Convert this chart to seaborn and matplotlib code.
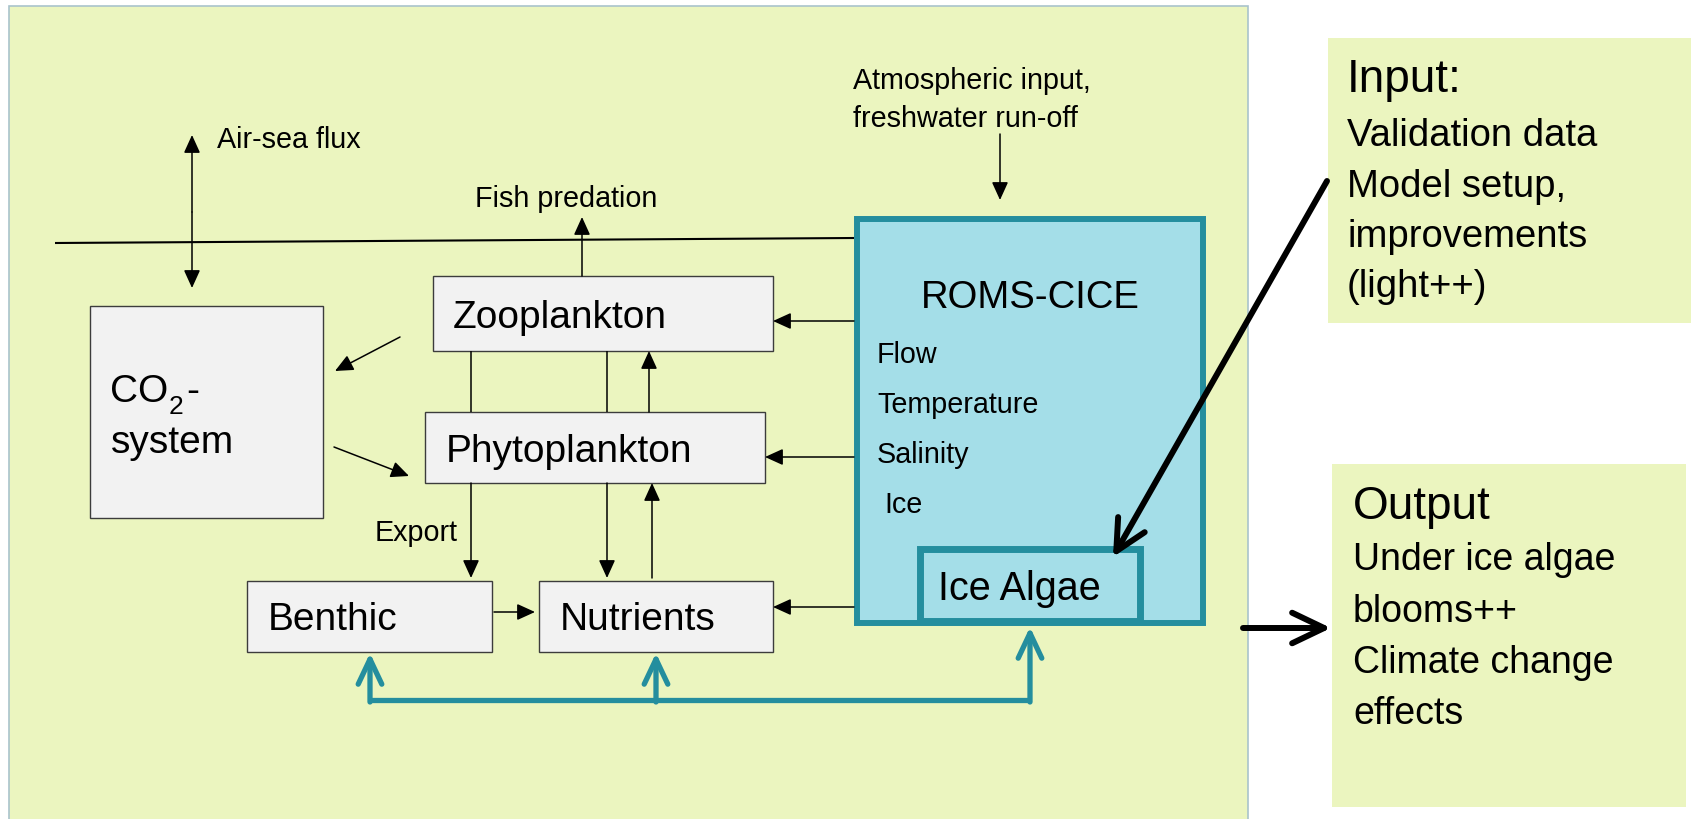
import matplotlib
matplotlib.use("Agg")
import matplotlib.pyplot as plt
import seaborn as sns
from matplotlib.patches import Rectangle, FancyArrowPatch, ArrowStyle

# ---------------- content (texts of the diagram) ----------------
box_labels = ["Zooplankton", "Phytoplankton", "Benthic", "Nutrients"]
co2_label = ["CO", "2", "-", "system"]
model_title = "ROMS-CICE"
model_vars = ["Flow", "Temperature", "Salinity", "Ice"]
ice_label = "Ice Algae"
small_labels = ["Air-sea flux", "Fish predation", "Export",
                "Atmospheric input,", "freshwater run-off"]
input_lines = ["Input:", "Validation data", "Model setup,", "improvements", "(light++)"]
output_lines = ["Output", "Under ice algae", "blooms++", "Climate change", "effects"]

# ---------------- layout (pixel coordinates, y downwards) ----------------
W, H = 1694, 819
PANEL = (9, 6, 1248, 830)
BOXES = {  # x0, y0, x1, y1
    "Zooplankton": (433, 276, 773, 351),
    "Phytoplankton": (425, 412, 765, 483),
    "Benthic": (247, 581, 492, 652),
    "Nutrients": (539, 581, 773, 652),
    "CO2": (90, 306, 323, 518),
}
LABEL_POS = {"Zooplankton": (453, 328), "Phytoplankton": (446, 462),
             "Benthic": (268, 630), "Nutrients": (560, 630)}

C_PANEL = "#EBF5BF"
C_PANEL_EDGE = "#A9C3CC"
C_BOX = "#F2F2F2"
C_BOX_EDGE = "#3C3C3C"
C_ROMS = "#A4DEE8"
C_TEAL = "#248E9E"

sns.set_theme(style="white")
plt.rcParams["font.family"] = ["Liberation Sans", "DejaVu Sans"]
plt.rcParams["text.color"] = "black"

fig = plt.figure(figsize=(W / 100, H / 100), dpi=100)
fig.patch.set_facecolor("white")
ax = fig.add_axes([0, 0, 1, 1])
ax.set_xlim(0, W)
ax.set_ylim(H, 0)
ax.axis("off")


def rect(x0, y0, x1, y1, fc, ec, lw, z=1):
    ax.add_patch(Rectangle((x0, y0), x1 - x0, y1 - y0, facecolor=fc,
                           edgecolor=ec, linewidth=lw, zorder=z,
                           joinstyle="miter"))


def arrow(p0, p1, color="black", lw=1.1, style="-|>", hl=11, hw=5, z=5):
    st = ArrowStyle(style, head_length=hl, head_width=hw)
    a = FancyArrowPatch(p0, p1, arrowstyle=st, mutation_scale=1,
                        color=color, lw=lw, shrinkA=0, shrinkB=0, zorder=z,
                        capstyle="round", joinstyle="round")
    ax.add_patch(a)


def line(xs, ys, color="black", lw=1.1, z=4):
    ax.plot(xs, ys, color=color, lw=lw, zorder=z, solid_capstyle="butt")


def txt(x, y, s, size, **kw):
    ax.text(x, y, s, fontsize=size, va="baseline", color="black", zorder=6, **kw)


# main panel
rect(*PANEL, C_PANEL, C_PANEL_EDGE, 1.2, z=0)
# input / output side boxes
rect(1328, 38, 1691, 323, C_PANEL, "none", 0, z=0)
rect(1332, 464, 1686, 807, C_PANEL, "none", 0, z=0)

# gray boxes
for name, (x0, y0, x1, y1) in BOXES.items():
    rect(x0, y0, x1, y1, C_BOX, C_BOX_EDGE, 1.0, z=2)
for lab in box_labels:
    x, y = LABEL_POS[lab]
    txt(x, y, lab, 28)

# CO2 system text
txt(110, 402, co2_label[0], 28)
txt(169, 414, co2_label[1], 19)
txt(186, 402, co2_label[2], 28)
txt(111, 453, co2_label[3], 28)

# ROMS-CICE box
rect(857, 219, 1203, 623, C_ROMS, C_TEAL, 4.3, z=2)
txt(1030, 308, model_title, 27.5, ha="center")
for lab, (x, y) in zip(model_vars, [(877, 363), (877, 413), (877, 463), (884, 513)]):
    txt(x, y, lab, 20.7)
rect(920, 549, 1140, 621, C_ROMS, C_TEAL, 5.0, z=3)
txt(938, 600, ice_label, 28.5)

# small labels
txt(217, 148, small_labels[0], 20.7)
txt(475, 207, small_labels[1], 20.7)
txt(375, 541, small_labels[2], 20.7)
txt(853, 89, small_labels[3], 20.7)
txt(853, 127, small_labels[4], 20.7)

# input / output text
in_y = [92, 146, 197, 247, 297]
for i, (t, y) in enumerate(zip(input_lines, in_y)):
    txt(1347, y, t, 33 if i == 0 else 27.5)
out_y = [519, 570, 622, 673, 724]
for i, (t, y) in enumerate(zip(output_lines, out_y)):
    txt(1353, y, t, 33 if i == 0 else 27)

# sea surface line
line([55, 854], [243, 238], lw=1.5, z=1)

# air-sea flux (double arrow)
arrow((192, 212), (192, 135))
arrow((192, 212), (192, 288))
# atmospheric input
arrow((1000, 134), (1000, 200))
# fish predation
arrow((582, 276), (582, 217))
# CO2 exchanges
arrow((400, 337), (335, 371))
arrow((334, 447), (409, 476))
# zoo <-> phyto
line([471, 471], [351, 412])
line([607, 607], [351, 412])
arrow((649, 412), (649, 351))
# phyto -> benthic (export), phyto <-> nutrients
arrow((471, 483), (471, 578))
arrow((607, 483), (607, 578))
arrow((652, 578), (652, 483))
# benthic -> nutrients
arrow((494, 612), (535, 612))
# ROMS forcing arrows
arrow((854, 321), (773, 321))
arrow((854, 457), (765, 457))
arrow((854, 607), (773, 607))

# teal feedback arrows from ice algae
line([370, 1030], [700, 700], color=C_TEAL, lw=3.8, z=4)
for x, ytip in [(370, 653), (656, 653), (1030, 627)]:
    arrow((x, 702), (x, ytip), color=C_TEAL, lw=3.8, style="->", hl=18, hw=8.5, z=4)

# big black arrow input -> ice algae
arrow((1327, 181), (1113, 557), lw=4.3, style="->", hl=22, hw=11, z=7)
# output arrow
arrow((1243, 628), (1331, 628), lw=4.3, style="->", hl=23, hw=11, z=7)

fig.savefig("out.png", dpi=100, facecolor="white")
